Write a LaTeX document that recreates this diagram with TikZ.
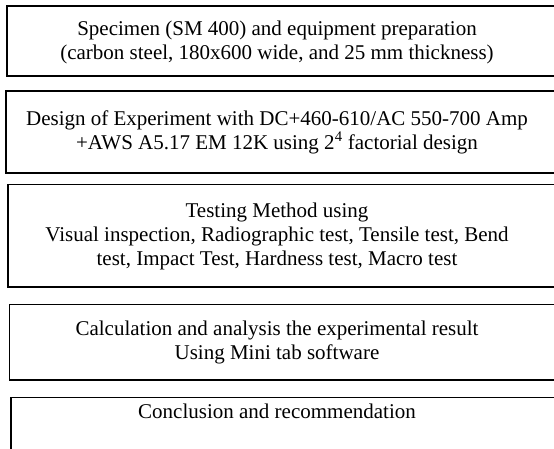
\documentclass[tikz,border=0pt]{standalone}
\usepackage{fontspec}
\setmainfont{Liberation Serif}
\begin{document}
\begin{tikzpicture}[x=1pt,y=1pt,
  boxline/.style={draw=black,line width=1.8pt},
  label/.style={anchor=base,font=\fontsize{21}{24}\selectfont,inner sep=0pt}]
\useasboundingbox (0,0) rectangle (554,-448);
\begin{scope}
\clip (0,0) rectangle (554,-448);
\draw[boxline] (7,-6) rectangle (570,-76);
\draw[boxline] (6,-91) rectangle (570,-173);
\draw[boxline] (8,-184.5) rectangle (570,-287);
\draw[boxline] (9.5,-304.5) rectangle (570,-380);
\draw[boxline] (11,-397.5) rectangle (570,-470);
\end{scope}
\node[label] (t1a) at (277,-35) {Specimen (SM 400) and equipment preparation};
\node[label] (t1b) at (277,-59) {(carbon steel, 180x600 wide, and 25 mm thickness)};
\node[label] (t2a) at (277,-125.5) {Design of Experiment with DC+460-610/AC 550-700 Amp};
\node[label] (t2b) at (277,-149.5) {+AWS A5.17 EM 12K using 2\textsuperscript{4} factorial design};
\node[label] (t3a) at (277,-217.5) {Testing Method using};
\node[label] (t3b) at (277,-241.5) {Visual inspection, Radiographic test, Tensile test, Bend};
\node[label] (t3c) at (277,-265.5) {test, Impact Test, Hardness test, Macro test};
\node[label] (t4a) at (277,-335.5) {Calculation and analysis the experimental result};
\node[label] (t4b) at (277,-359.5) {Using Mini tab software};
\node[label] (t5) at (277,-418.5) {Conclusion and recommendation};
\end{tikzpicture}
\end{document}
